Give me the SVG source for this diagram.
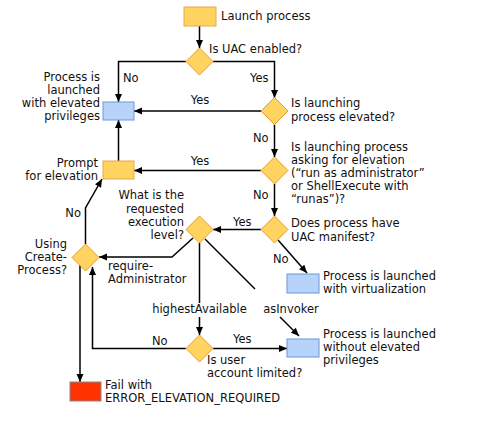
<svg xmlns="http://www.w3.org/2000/svg" width="477" height="432" viewBox="0 0 477 432">
<style>
text{font-family:"DejaVu Sans","Liberation Sans",sans-serif;font-size:11.5px;fill:#111}
.r{text-anchor:end}
.m{text-anchor:middle}
.d{fill:#FFD35F;stroke:#E89A2E;stroke-width:1}
.y{fill:#FFD35F;stroke:#E8A84A;stroke-width:1}
.b{fill:#B7D3F9;stroke:#6E97D8;stroke-width:1}
.f{fill:#FF3300;stroke:#888;stroke-width:1}
.c path{fill:none;stroke:#000;stroke-width:1.5}
</style>
<defs>
<marker id="a" markerUnits="userSpaceOnUse" markerWidth="10" markerHeight="10" viewBox="0 0 10 10" refX="9" refY="5" orient="auto">
<path d="M1,1.5 L9,5 L1,8.5 z" fill="#000"/>
</marker>
</defs>
<g class="c">
<path d="M199.5,26 V48" marker-end="url(#a)"/>
<path d="M186,61.5 H118.5 V102" marker-end="url(#a)"/>
<path d="M213,61.5 H274.5 V98" marker-end="url(#a)"/>
<path d="M261,111 H134" marker-end="url(#a)"/>
<path d="M274.5,124.5 V157" marker-end="url(#a)"/>
<path d="M261,170.5 H134" marker-end="url(#a)"/>
<path d="M118.5,161 V120" marker-end="url(#a)"/>
<path d="M274.5,184 V216" marker-end="url(#a)"/>
<path d="M261,229.5 H213" marker-end="url(#a)"/>
<path d="M278,240 L307,273" marker-end="url(#a)"/>
<path d="M193,238 L172,257 H99" marker-end="url(#a)"/>
<path d="M199.5,243 V303"/>
<path d="M199.5,317 V335" marker-end="url(#a)"/>
<path d="M205,239 L255,289"/>
<path d="M280,317 L299,336" marker-end="url(#a)"/>
<path d="M213,348.5 H287" marker-end="url(#a)"/>
<path d="M186,348.5 H92.5 V267" marker-end="url(#a)"/>
<path d="M80,265 V382" marker-end="url(#a)"/>
<path d="M85.5,244 V208 L102,179" marker-end="url(#a)"/>
</g>
<g id="launch"><rect class="y" x="184" y="7" width="32" height="19"/><text x="221" y="20">Launch process</text></g>
<g id="uac"><path class="d" d="M199.5,48 L213,61.5 L199.5,75 L186,61.5 z"/><text x="209" y="53">Is UAC enabled?</text></g>
<g id="elevated"><rect class="b" x="103" y="102" width="31" height="18"/>
<text class="r" x="100" y="81">Process is</text><text class="r" x="100" y="94">launched</text><text class="r" x="100" y="107">with elevated</text><text class="r" x="100" y="120">privileges</text></g>
<g id="isElevated"><path class="d" d="M274.5,97.5 L288,111 L274.5,124.5 L261,111 z"/><text x="291" y="107">Is launching</text><text x="291" y="121">process elevated?</text></g>
<g id="asking"><path class="d" d="M274.5,157 L288,170.5 L274.5,184 L261,170.5 z"/>
<text x="291" y="151">Is launching process</text><text x="291" y="164">asking for elevation</text><text x="291" y="177">(“run as administrator”</text><text x="291" y="190">or ShellExecute with</text><text x="291" y="203">“runas”)?</text></g>
<g id="prompt"><rect class="y" x="103" y="161" width="31" height="18"/><text class="r" x="98" y="167">Prompt</text><text class="r" x="98" y="180">for elevation</text></g>
<g id="manifest"><path class="d" d="M274.5,216 L288,229.5 L274.5,243 L261,229.5 z"/><text x="291" y="227">Does process have</text><text x="291" y="241">UAC manifest?</text></g>
<g id="level"><path class="d" d="M199.5,216 L213,229.5 L199.5,243 L186,229.5 z"/>
<text class="r" x="184" y="199">What is the</text><text class="r" x="184" y="213">requested</text><text class="r" x="184" y="226">execution</text><text class="r" x="184" y="239">level?</text></g>
<g id="create"><path class="d" d="M85.5,244 L99,257.5 L85.5,271 L72,257.5 z"/>
<text class="r" x="67" y="248">Using</text><text class="r" x="67" y="261">Create-</text><text class="r" x="67" y="274">Process?</text></g>
<g id="virt"><rect class="b" x="287" y="274" width="32" height="19"/><text x="323" y="280">Process is launched</text><text x="323" y="293">with virtualization</text></g>
<g id="limited"><path class="d" d="M199.5,335 L213,348.5 L199.5,362 L186,348.5 z"/><text x="207" y="364">Is user</text><text x="207" y="377">account limited?</text></g>
<g id="without"><rect class="b" x="287" y="339" width="32" height="18"/><text x="323" y="338">Process is launched</text><text x="323" y="351">without elevated</text><text x="323" y="364">privileges</text></g>
<g id="fail"><rect class="f" x="70" y="382" width="31" height="19"/><text x="105" y="389">Fail with</text><text x="105" y="402">ERROR_ELEVATION_REQUIRED</text></g>
<g id="labels">
<text x="123" y="82">No</text>
<text x="250" y="82">Yes</text>
<text class="m" x="200" y="104">Yes</text>
<text x="253" y="142">No</text>
<text class="m" x="200" y="165">Yes</text>
<text x="253" y="199">No</text>
<text x="233" y="226">Yes</text>
<text x="273" y="263">No</text>
<text class="r" x="81" y="217">No</text>
<text x="108" y="270">require-</text>
<text x="108" y="283">Administrator</text>
<text class="m" x="199.5" y="313">highestAvailable</text>
<text class="m" x="291" y="313">asInvoker</text>
<text x="233" y="343">Yes</text>
<text x="152" y="345">No</text>
</g>
</svg>
